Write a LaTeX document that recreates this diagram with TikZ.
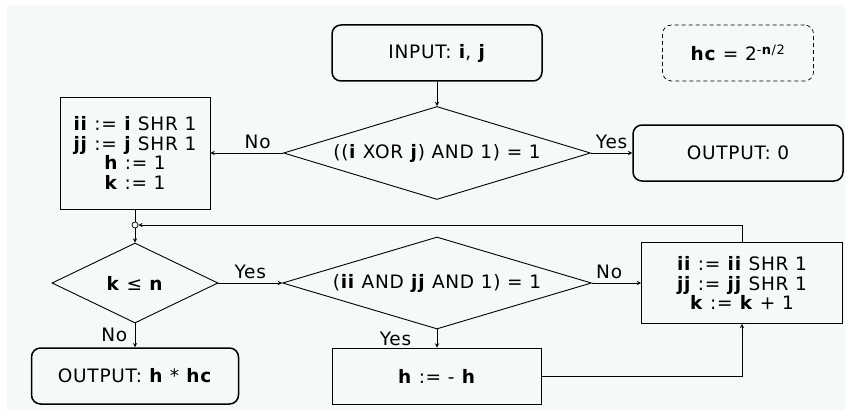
\documentclass[tikz,border=0pt]{standalone}
\usepackage{fontspec}
\setmainfont{DejaVu Sans}[LetterSpace=4]
\usetikzlibrary{shapes.geometric}
\definecolor{paper}{RGB}{245,250,247}

\begin{document}
\begin{tikzpicture}[x=1pt, y=-1pt, line width=0.9pt, >=stealth,
    font=\fontsize{18.5}{19.5}\selectfont,
    box/.style={draw, rectangle, align=center, inner sep=0pt},
    term/.style={box, rounded corners=9pt, line width=1.5pt},
    test/.style={draw, diamond, aspect=3.3, inner sep=0pt}]
  \useasboundingbox (0,0) rectangle (845,417);
  \fill[paper] (7,5) rectangle (845,410);

  % 1. Start, first test and its two outcomes
  \node[term, minimum width=210pt, minimum height=56pt] (input) at (437,53) {INPUT: \textbf{i}, \textbf{j}};
  \node[test, minimum width=307pt, minimum height=93pt] (xorTest) at (437,153) {((\textbf{i} XOR \textbf{j}) AND 1) = 1};
  \node[box, minimum width=150pt, minimum height=112pt] (init) at (135,153)
    {\textbf{ii} := \textbf{i} SHR 1\\ \textbf{jj} := \textbf{j} SHR 1\\ \textbf{h} := 1\\ \textbf{k} := 1};
  \node[term, minimum width=210pt, minimum height=56pt] (outZero) at (738,153) {OUTPUT: 0};
  \node[box, dash pattern=on 4pt off 3pt, rounded corners=9pt, line width=0.7pt, minimum width=151pt, minimum height=56pt] (hcNote) at (738,53)
    {\textbf{hc} = 2\textsuperscript{-\textbf{n}/2}};

  \draw[->] (input) -- (xorTest);
  \draw[->] (xorTest.west) -- node[above, pos=0.35] (noA) {No} (init.east);
  \draw[->] (xorTest.east) -- node[above] (yesA) {Yes} (outZero.west);

  % 2. Loop: join point, counter test, parity test
  \node[draw, circle, fill=paper, inner sep=0pt, minimum size=6pt, line width=0.7pt] (join) at (135,225) {};
  \node[test, minimum width=166pt, minimum height=80pt] (kTest) at (135,283) {\textbf{k} ≤ \textbf{n}};
  \node[term, minimum width=207pt, minimum height=56pt] (outH) at (135,376) {OUTPUT: \textbf{h} * \textbf{hc}};
  \node[test, minimum width=309pt, minimum height=92pt] (andTest) at (437,283) {(\textbf{ii} AND \textbf{jj} AND 1) = 1};
  \node[box, minimum width=209pt, minimum height=56pt] (negH) at (437,376) {\textbf{h} := - \textbf{h}};
  \node[box, minimum width=201pt, minimum height=81pt] (shift) at (742,283)
    {\textbf{ii} := \textbf{ii} SHR 1\\ \textbf{jj} := \textbf{jj} SHR 1\\ \textbf{k} := \textbf{k} + 1};

  \draw (init.south) -- (join.north);
  \draw[->] (join.south) -- (kTest.north);
  \draw[->] (kTest.south) -- node[left, xshift=-4pt] (noB) {No} (outH.north);
  \draw[->] (kTest.east) -- node[above] (yesB) {Yes} (andTest.west);
  \draw[->] (andTest.east) -- node[above, pos=0.35] (noC) {No} (shift.west);
  \draw[->] (andTest.south) -- node[left, xshift=-22pt] (yesC) {Yes} (negH.north);

  % 3. Back edges
  \draw[->] (negH.east) -| (shift.south);
  \draw[->] (shift.north) |- (join.east);
\end{tikzpicture}
\end{document}
